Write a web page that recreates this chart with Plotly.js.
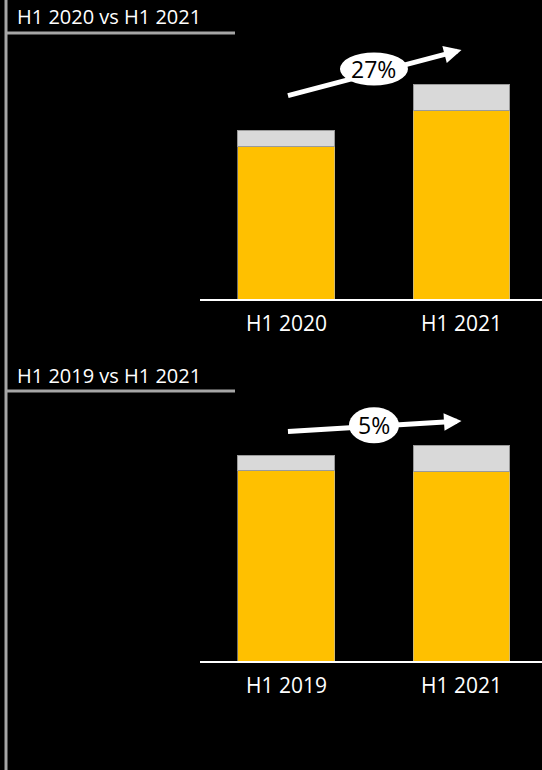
<!DOCTYPE html>
<html>
<head>
<meta charset="utf-8">
<script src="https://cdn.plot.ly/plotly-3.0.1.min.js"></script>
<style>html,body{margin:0;padding:0;background:#000;}#chart{width:542px;height:770px;}</style>
</head>
<body>
<div id="chart"></div>
<script>
// Panel titles
const panelTitles = ["H1 2020 vs H1 2021", "H1 2019 vs H1 2021"];
// Categories
const cats1 = ["H1 2020", "H1 2021"];
const cats2 = ["H1 2019", "H1 2021"];
// Series values (same scale for both panels)
const base1 = [153, 189];
const extra1 = [16, 26];
const base2 = [191, 190];
const extra2 = [14.5, 26];
// Growth labels
const growth1 = "27%";
const growth2 = "5%";

const W = 542, H = 770;
const YELLOW = "#FFC000", GREY = "#D9D9D9", LINE = "#A6A6A6";
const FONT = "Open Sans, Noto Sans, sans-serif";

function tot(a, b, i) { return a[i] + b[i]; }

const traces = [
  {type: "bar", x: cats1, y: base1, xaxis: "x", yaxis: "y", marker: {color: YELLOW, line: {color: "#B8B8B8", width: 0.6}}, width: 0.554, hoverinfo: "skip"},
  {type: "bar", x: cats1, y: extra1, xaxis: "x", yaxis: "y", marker: {color: GREY, line: {color: "#9a9a9a", width: 1}}, width: 0.554, hoverinfo: "skip"},
  {type: "bar", x: cats2, y: base2, xaxis: "x2", yaxis: "y2", marker: {color: YELLOW, line: {color: "#B8B8B8", width: 0.6}}, width: 0.554, hoverinfo: "skip"},
  {type: "bar", x: cats2, y: extra2, xaxis: "x2", yaxis: "y2", marker: {color: GREY, line: {color: "#9a9a9a", width: 1}}, width: 0.554, hoverinfo: "skip"}
];

const xRange = [-0.494, 1.46];
const xdom = [200 / W, 1];
function xax(anchor) {
  return {
    domain: xdom, range: xRange, anchor: anchor, type: "category",
    showgrid: false, zeroline: false, showline: true, linecolor: "#FFFFFF", linewidth: 2,
    ticks: "outside", ticklen: 5, tickcolor: "rgba(0,0,0,0)",
    tickfont: {family: FONT, size: 21, color: "#FFFFFF"},
    fixedrange: true
  };
}
function yax(bottomPx, topPx) {
  return {
    domain: [(H - bottomPx) / H, (H - topPx) / H], range: [0, bottomPx - topPx],
    visible: false, showgrid: false, zeroline: false, fixedrange: true
  };
}

const off1 = 34, off2 = 24;
const a1 = [tot(base1, extra1, 0) + off1, tot(base1, extra1, 1) + off1];
const a2 = [tot(base2, extra2, 0) + off2, tot(base2, extra2, 1) + off2];

const arrowAnn = (xa, ya, ys) => ({
  xref: xa, yref: ya, axref: xa, ayref: ya,
  x: 1, y: ys[1], ax: 0, ay: ys[0], text: "", showarrow: true,
  arrowhead: 2, arrowsize: 0.7, arrowwidth: 5, arrowcolor: "#FFFFFF", standoff: 0, startstandoff: 0
});
const labelAnn = (xa, ya, ys, txt, shift) => ({
  xref: xa, yref: ya, x: 0.5, y: (ys[0] + ys[1]) / 2, yshift: shift, text: txt, showarrow: false,
  font: {family: FONT, size: 23, color: "#000000"}, xanchor: "center", yanchor: "middle"
});
const titleAnn = (txt, ypx) => ({
  xref: "paper", yref: "paper", x: 15 / W, y: (H - ypx) / H, xanchor: "left", yanchor: "middle",
  text: txt, showarrow: false, font: {family: FONT, size: 20, color: "#FFFFFF"}
});

const ellipse = (xa, ya, ys, w, h, dy) => ({
  type: "circle", xref: xa, yref: ya, xsizemode: "pixel", ysizemode: "pixel",
  xanchor: 0.5, yanchor: (ys[0] + ys[1]) / 2,
  x0: -w / 2, x1: w / 2, y0: -h / 2 + dy, y1: h / 2 + dy,
  fillcolor: "#FFFFFF", line: {width: 0}, layer: "above"
});

const layout = {
  width: W, height: H, margin: {l: 0, r: 0, t: 0, b: 0},
  paper_bgcolor: "#000000", plot_bgcolor: "#000000",
  showlegend: false, barmode: "stack",
  xaxis: xax("y"), yaxis: yax(299, 40),
  xaxis2: xax("y2"), yaxis2: yax(661, 400),
  shapes: [
    {type: "line", xref: "paper", yref: "paper", x0: 6 / W, x1: 6 / W, y0: 0, y1: 1, line: {color: LINE, width: 3}},
    {type: "line", xref: "paper", yref: "paper", x0: 6 / W, x1: 235 / W, y0: (H - 33) / H, y1: (H - 33) / H, line: {color: LINE, width: 3}},
    {type: "line", xref: "paper", yref: "paper", x0: 6 / W, x1: 235 / W, y0: (H - 391) / H, y1: (H - 391) / H, line: {color: LINE, width: 3}},
    ellipse("x", "y", a1, 68, 33, 4),
    ellipse("x2", "y2", a2, 50, 36, 1)
  ],
  annotations: [
    titleAnn(panelTitles[0], 16),
    titleAnn(panelTitles[1], 375),
    arrowAnn("x", "y", a1),
    arrowAnn("x2", "y2", a2),
    labelAnn("x", "y", a1, growth1, 4),
    labelAnn("x2", "y2", a2, growth2, 1)
  ]
};

Plotly.newPlot("chart", traces, layout, {staticPlot: true, displayModeBar: false});
</script>
</body>
</html>
